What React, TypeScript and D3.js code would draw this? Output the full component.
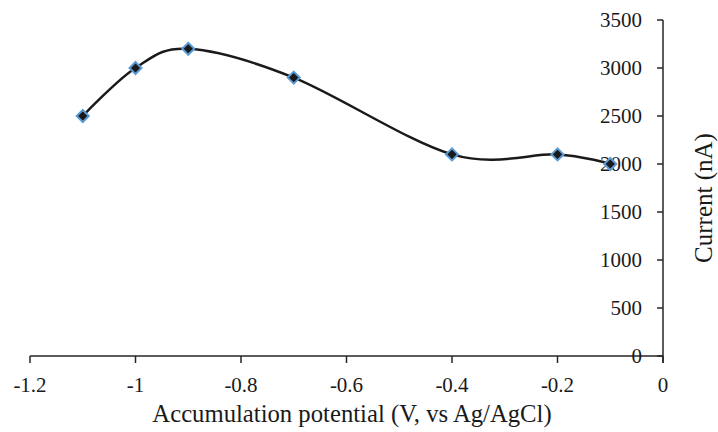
import React from "react";
import * as d3 from "d3";

const potentials = [-1.1, -1.0, -0.9, -0.7, -0.4, -0.2, -0.1];
const currents = [2500, 3000, 3200, 2900, 2100, 2100, 2000];
const xTicks = [-1.2, -1, -0.8, -0.6, -0.4, -0.2, 0];
const yTicks = [0, 500, 1000, 1500, 2000, 2500, 3000, 3500];

const W = 718;
const H = 432;
const left = 30;
const right = 663;
const top = 20;
const bottom = 356;
const font = '"Liberation Serif", "Times New Roman", Times, serif';

export default function App() {
  const x = d3.scaleLinear().domain([-1.2, 0]).range([left, right]);
  const y = d3.scaleLinear().domain([0, 3500]).range([bottom, top]);
  const pts: [number, number][] = potentials.map((p, i) => [x(p), y(currents[i])]);
  const line = d3.line().curve(d3.curveCardinal.tension(0))(pts) || "";
  const diamond = (cx: number, cy: number, r: number) =>
    `M${cx},${cy - r}L${cx + r},${cy}L${cx},${cy + r}L${cx - r},${cy}Z`;
  const axisColor = "#262626";
  const ts = { fontFamily: font };
  return (
    <svg
      width={W}
      height={H}
      style={{ position: "absolute", left: 0, top: 0, background: "#fff" }}
    >
      <rect width={W} height={H} fill="#fff" />
      {/* x axis */}
      <line x1={left} x2={right} y1={bottom} y2={bottom} stroke={axisColor} strokeWidth={1.5} />
      {xTicks.map((t) => (
        <g key={"xt" + t}>
          <line x1={x(t)} x2={x(t)} y1={bottom} y2={bottom + 7} stroke={axisColor} strokeWidth={1.5} />
          <text x={x(t)} y={bottom + 36} fontSize={21} textAnchor="middle" fill="#1a1a1a" style={ts}>
            {String(t)}
          </text>
        </g>
      ))}
      {/* y axis */}
      <line x1={right} x2={right} y1={top} y2={bottom + 7} stroke={axisColor} strokeWidth={1.5} />
      {yTicks.map((t) => (
        <g key={"yt" + t}>
          <line x1={right - 6} x2={right} y1={y(t)} y2={y(t)} stroke={axisColor} strokeWidth={1.5} />
          <text
            x={right - 21}
            y={y(t)}
            dy="0.35em"
            fontSize={21}
            textAnchor="end"
            fill="#1a1a1a"
            style={ts}
          >
            {t}
          </text>
        </g>
      ))}
      {/* series */}
      <path d={line} fill="none" stroke="#1a1a1a" strokeWidth={2.5} />
      {pts.map(([cx, cy], i) => (
        <path
          key={"m" + i}
          d={diamond(cx, cy, 6)}
          fill="#1a1a1a"
          stroke="#5b9bd5"
          strokeWidth={2}
        />
      ))}
      {/* titles */}
      <text x={352} y={422} fontSize={24.7} textAnchor="middle" fill="#1a1a1a" style={ts}>
        Accumulation potential (V, vs Ag/AgCl)
      </text>
      <text
        transform={`translate(712,198) rotate(-90)`}
        fontSize={25}
        textAnchor="middle"
        fill="#1a1a1a"
        style={ts}
      >
        Current (nA)
      </text>
    </svg>
  );
}
